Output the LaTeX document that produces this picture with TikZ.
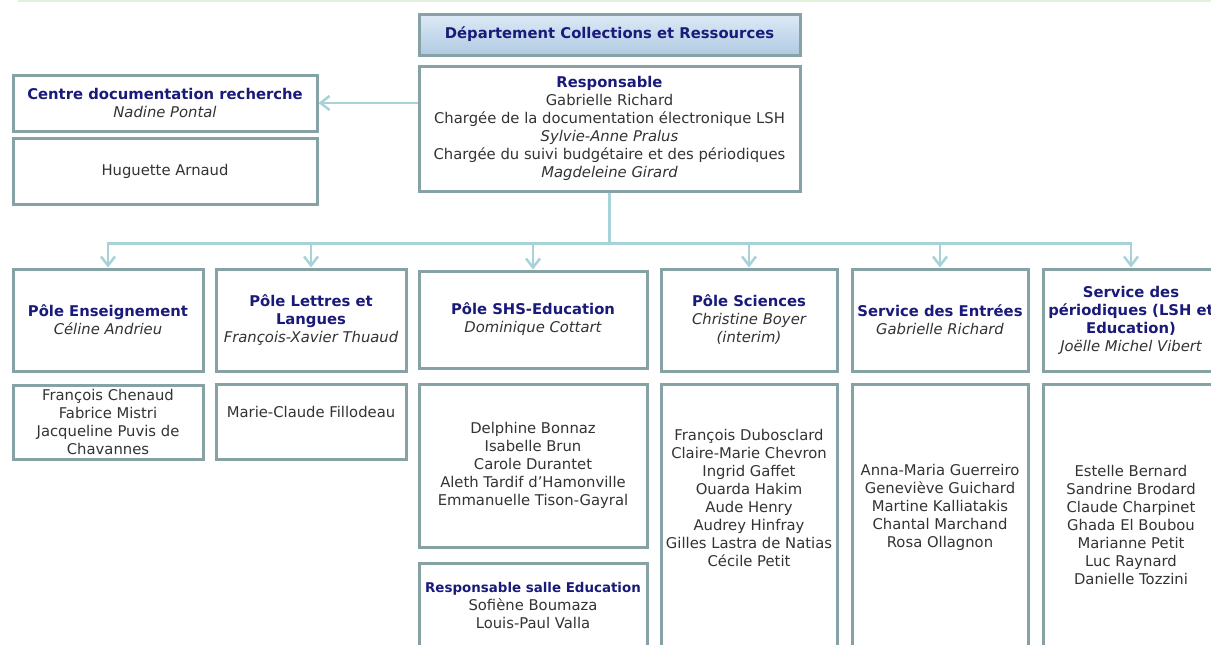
\documentclass[tikz,border=0pt]{standalone}
\usepackage{fontspec}
\setmainfont{DejaVu Sans}
\usetikzlibrary{arrows.meta, positioning, calc}
\definecolor{orgnavy}{RGB}{26, 26, 122}
\definecolor{orgtext}{RGB}{51, 51, 51}
\definecolor{orgframe}{RGB}{134, 162, 165}
\definecolor{orglink}{RGB}{167, 211, 216}
\definecolor{orgtop}{RGB}{221, 234, 246}
\definecolor{orgbottom}{RGB}{176, 202, 227}
\definecolor{orggreen}{RGB}{226, 241, 218}
\newcommand{\unitname}[1]{{\bfseries\color{orgnavy}#1}}
\newcommand{\who}[1]{{\itshape #1}}
\tikzset{
  orgbox/.style={draw=orgframe, line width=3pt, fill=white, align=center,
    text=orgtext, inner sep=2pt, font=\fontsize{14.8}{18}\selectfont},
  headbox/.style={orgbox, top color=orgtop, bottom color=orgbottom},
  namelist/.style={align=center, text=orgtext, inner sep=0pt,
    font=\fontsize{14.8}{18}\selectfont},
  link/.style={draw=orglink, line width=2.5pt,
    -{Straight Barb[length=9pt, width=14pt]}}
}

\begin{document}
\begin{tikzpicture}[x=1pt, y=-1pt]
  \clip (0,0) rectangle (1211,645);
  \fill[white] (0,0) rectangle (1211,645);
  \draw[orggreen, line width=1.5pt] (18,0.75) -- (1211,0.75);

  % department
  \node[headbox, minimum width=381, minimum height=41] (dept) at (609.5,34.5)
    {\unitname{Département Collections et Ressources}};
  \node[orgbox, minimum width=381, minimum height=125] (resp) at (609.5,128.5)
    {\unitname{Responsable}\\ Gabrielle Richard\\
     Chargée de la documentation électronique LSH\\ \who{Sylvie-Anne Pralus}\\
     Chargée du suivi budgétaire et des périodiques\\ \who{Magdeleine Girard}};

  % centre documentation
  \node[orgbox, minimum width=304, minimum height=56] (centre) at (165,103)
    {\unitname{Centre documentation recherche}\\ \who{Nadine Pontal}};
  \node[orgbox, minimum width=304, minimum height=66] (centrestaff) at (165,171)
    {Huguette Arnaud};

  % poles
  \node[orgbox, minimum width=190, minimum height=102] (ens) at (108,320)
    {\unitname{Pôle Enseignement}\\ \who{Céline Andrieu}};
  \node[orgbox, minimum width=190, minimum height=102] (let) at (311,320)
    {\unitname{Pôle Lettres et}\\ \unitname{Langues}\\ \who{François-Xavier Thuaud}};
  \node[orgbox, minimum width=228, minimum height=97] (shs) at (533,319.5)
    {\unitname{Pôle SHS-Education}\\ \who{Dominique Cottart}};
  \node[orgbox, minimum width=176, minimum height=102] (sci) at (749,320)
    {\unitname{Pôle Sciences}\\ \who{Christine Boyer}\\ \who{(interim)}};
  \node[orgbox, minimum width=176, minimum height=102] (ent) at (940,320)
    {\unitname{Service des Entrées}\\ \who{Gabrielle Richard}};
  \node[orgbox, minimum width=176, minimum height=102] (per) at (1131,320)
    {\unitname{Service des}\\ \unitname{périodiques (LSH et}\\
     \unitname{Education)}\\ \who{Joëlle Michel Vibert}};

  % staff
  \node[orgbox, minimum width=190, minimum height=74] (ensstaff) at (108,422)
    {François Chenaud\\ Fabrice Mistri\\ Jacqueline Puvis de\\ Chavannes};
  \node[orgbox, minimum width=190, minimum height=75] (letstaff) at (311,421.5) {};
  \node[namelist] (letnames) at (311,412) {Marie-Claude Fillodeau};
  \node[orgbox, minimum width=228, minimum height=163] (shsstaff) at (533,465.5)
    {Delphine Bonnaz\\ Isabelle Brun\\ Carole Durantet\\
     Aleth Tardif d’Hamonville\\ Emmanuelle Tison-Gayral};
  \node[orgbox, anchor=north, minimum width=228, minimum height=120] (salle) at (533,562) {};
  \node[namelist] (sallenames) at (533,605.5)
    {{\fontsize{13.4}{18}\selectfont\unitname{Responsable salle Education}}\\
     Sofiène Boumaza\\ Louis-Paul Valla};
  \node[orgbox, anchor=north, minimum width=176, minimum height=300] (scistaff) at (749,383) {};
  \node[namelist] (scinames) at (749,498)
    {François Dubosclard\\ Claire-Marie Chevron\\ Ingrid Gaffet\\ Ouarda Hakim\\
     Aude Henry\\ Audrey Hinfray\\ Gilles Lastra de Natias\\ Cécile Petit};
  \node[orgbox, anchor=north, minimum width=176, minimum height=300] (entstaff) at (940,383) {};
  \node[namelist] (entnames) at (940,507)
    {Anna-Maria Guerreiro\\ Geneviève Guichard\\ Martine Kalliatakis\\
     Chantal Marchand\\ Rosa Ollagnon};
  \node[orgbox, anchor=north, minimum width=176, minimum height=300] (perstaff) at (1131,383) {};
  \node[namelist] (pernames) at (1131,525)
    {Estelle Bernard\\ Sandrine Brodard\\ Claude Charpinet\\ Ghada El Boubou\\
     Marianne Petit\\ Luc Raynard\\ Danielle Tozzini};

  % connectors
  \draw[link] (centre.east -| resp.west) -- (centre.east);
  \draw[link, -] (resp.south) -- ++(0,51) coordinate (bus);
  \foreach \n in {ens, let, shs, sci, ent, per}
    \draw[link] (bus) -| (\n.north);
\end{tikzpicture}
\end{document}
